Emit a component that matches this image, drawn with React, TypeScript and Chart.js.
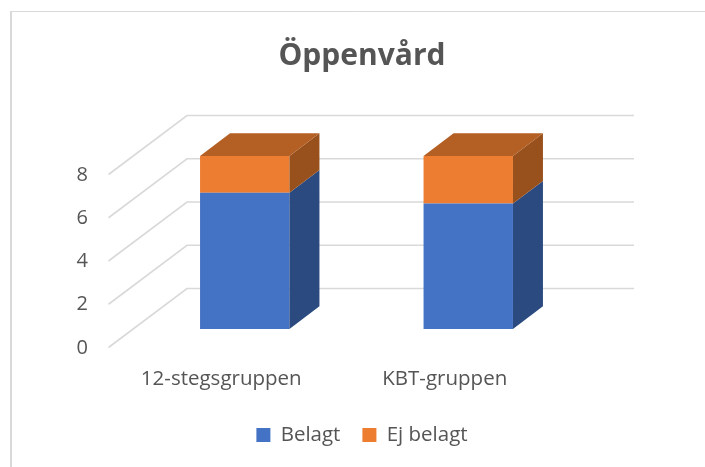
import { useEffect, useRef } from "react";
import { Chart, registerables } from "chart.js";

Chart.register(...registerables);

const categories = ["12-stegsgruppen", "KBT-gruppen"];
const belagt = [6.3, 5.8];
const ejBelagt = [1.7, 2.2];
const yTickValues = [0, 2, 4, 6, 8];

const seriesNames = ["Belagt", "Ej belagt"];
const frontColors = ["#4472C4", "#ED7D31"];
const sideColors = ["#2B4A80", "#98501D"];
const topColors = ["#2F5597", "#B45F23"];

const FONT = "'Open Sans', 'Noto Sans', sans-serif";
const TEXT = "#555555";
const GRID = "#D9D9D9";

// oblique projection offsets relative to the bar (front-face) plane
const FRONT = { dx: -24.5, dy: 18.5 };
const BACK = { dx: 54, dy: -40.5 };
const DEPTH = { dx: 30, dy: -22.7 };

const poly = (ctx: CanvasRenderingContext2D, pts: number[][], fill: string) => {
  ctx.beginPath();
  ctx.moveTo(pts[0][0], pts[0][1]);
  for (let i = 1; i < pts.length; i++) ctx.lineTo(pts[i][0], pts[i][1]);
  ctx.closePath();
  ctx.fillStyle = fill;
  ctx.fill();
};

const threeD = {
  id: "threeD",
  beforeDraw(chart: any) {
    const { ctx, width } = chart;
    ctx.save();
    ctx.strokeStyle = GRID;
    ctx.lineWidth = 1;
    ctx.beginPath();
    ctx.moveTo(10.5, 11.5);
    ctx.lineTo(width, 11.5);
    ctx.stroke();
    ctx.lineWidth = 2;
    ctx.beginPath();
    ctx.moveTo(11, 11);
    ctx.lineTo(11, chart.height);
    ctx.stroke();
    ctx.restore();
  },
  beforeDatasetsDraw(chart: any) {
    const { ctx, chartArea } = chart;
    const y = chart.scales.y;
    ctx.save();
    ctx.strokeStyle = GRID;
    ctx.lineWidth = 1.6;
    for (const v of yTickValues) {
      const py = y.getPixelForValue(v);
      ctx.beginPath();
      ctx.moveTo(chartArea.left + FRONT.dx, py + FRONT.dy);
      ctx.lineTo(chartArea.left + BACK.dx, py + BACK.dy);
      ctx.lineTo(chartArea.right + BACK.dx, py + BACK.dy);
      ctx.stroke();
    }
    ctx.restore();
  },
  afterDatasetsDraw(chart: any) {
    const { ctx } = chart;
    const n = chart.data.datasets.length;
    ctx.save();
    for (let di = 0; di < n; di++) {
      const meta = chart.getDatasetMeta(di);
      meta.data.forEach((el: any) => {
        const { x, y, base, width } = el.getProps(["x", "y", "base", "width"], true);
        const l = x - width / 2;
        const r = x + width / 2;
        poly(
          ctx,
          [
            [r, y],
            [r + DEPTH.dx, y + DEPTH.dy],
            [r + DEPTH.dx, base + DEPTH.dy],
            [r, base],
          ],
          sideColors[di]
        );
        if (di === n - 1) {
          poly(
            ctx,
            [
              [l, y],
              [l + DEPTH.dx, y + DEPTH.dy],
              [r + DEPTH.dx, y + DEPTH.dy],
              [r, y],
            ],
            topColors[di]
          );
        }
      });
    }
    ctx.restore();
  },
};

export default function App() {
  const ref = useRef<HTMLCanvasElement | null>(null);

  useEffect(() => {
    if (!ref.current) return;
    const chart = new Chart(ref.current, {
      type: "bar",
      data: {
        labels: categories,
        datasets: [
          {
            label: seriesNames[0],
            data: belagt,
            backgroundColor: frontColors[0],
            categoryPercentage: 0.4,
            barPercentage: 1,
          },
          {
            label: seriesNames[1],
            data: ejBelagt,
            backgroundColor: frontColors[1],
            categoryPercentage: 0.4,
            barPercentage: 1,
          },
        ],
      },
      options: {
        responsive: false,
        animation: false,
        events: [],
        layout: { padding: { left: 19, right: 0, top: 0, bottom: 11.75 } },
        plugins: {
          tooltip: { enabled: false },
          title: {
            display: true,
            text: "Öppenvård",
            color: TEXT,
            font: { family: FONT, size: 30, weight: "bold", lineHeight: 1.2 },
            padding: { top: 38, bottom: 82 },
          },
          legend: {
            position: "bottom",
            labels: {
              color: TEXT,
              font: { family: FONT, size: 20.5 },
              boxWidth: 14,
              boxHeight: 14,
              padding: 22,
            },
          },
        },
        scales: {
          x: {
            stacked: true,
            grid: { display: false, drawTicks: false },
            border: { display: false },
            ticks: {
              color: TEXT,
              font: { family: FONT, size: 20.5, lineHeight: 1.2 },
              padding: 38,
              labelOffset: -23.5,
              maxRotation: 0,
            },
            afterFit: (s: any) => {
              s.height = 73.75;
            },
          },
          y: {
            stacked: true,
            min: 0,
            max: 8,
            grid: { display: false, drawTicks: false },
            border: { display: false },
            ticks: {
              stepSize: 2,
              color: TEXT,
              font: { family: FONT, size: 20 },
              padding: 45,
              labelOffset: 19,
            },
            afterFit: (s: any) => {
              s.width = 114;
            },
          },
          yRight: {
            position: "right",
            display: true,
            grid: { display: false, drawTicks: false },
            border: { display: false },
            ticks: { display: false },
            afterFit: (s: any) => {
              s.width = 125;
            },
          },
        },
      },
      plugins: [threeD],
    } as any);
    return () => chart.destroy();
  }, []);

  return (
    <div style={{ position: "fixed", left: 0, top: 0, width: 705, height: 467, background: "#fff" }}>
      <canvas ref={ref} width={705} height={467} style={{ display: "block" }} />
    </div>
  );
}
